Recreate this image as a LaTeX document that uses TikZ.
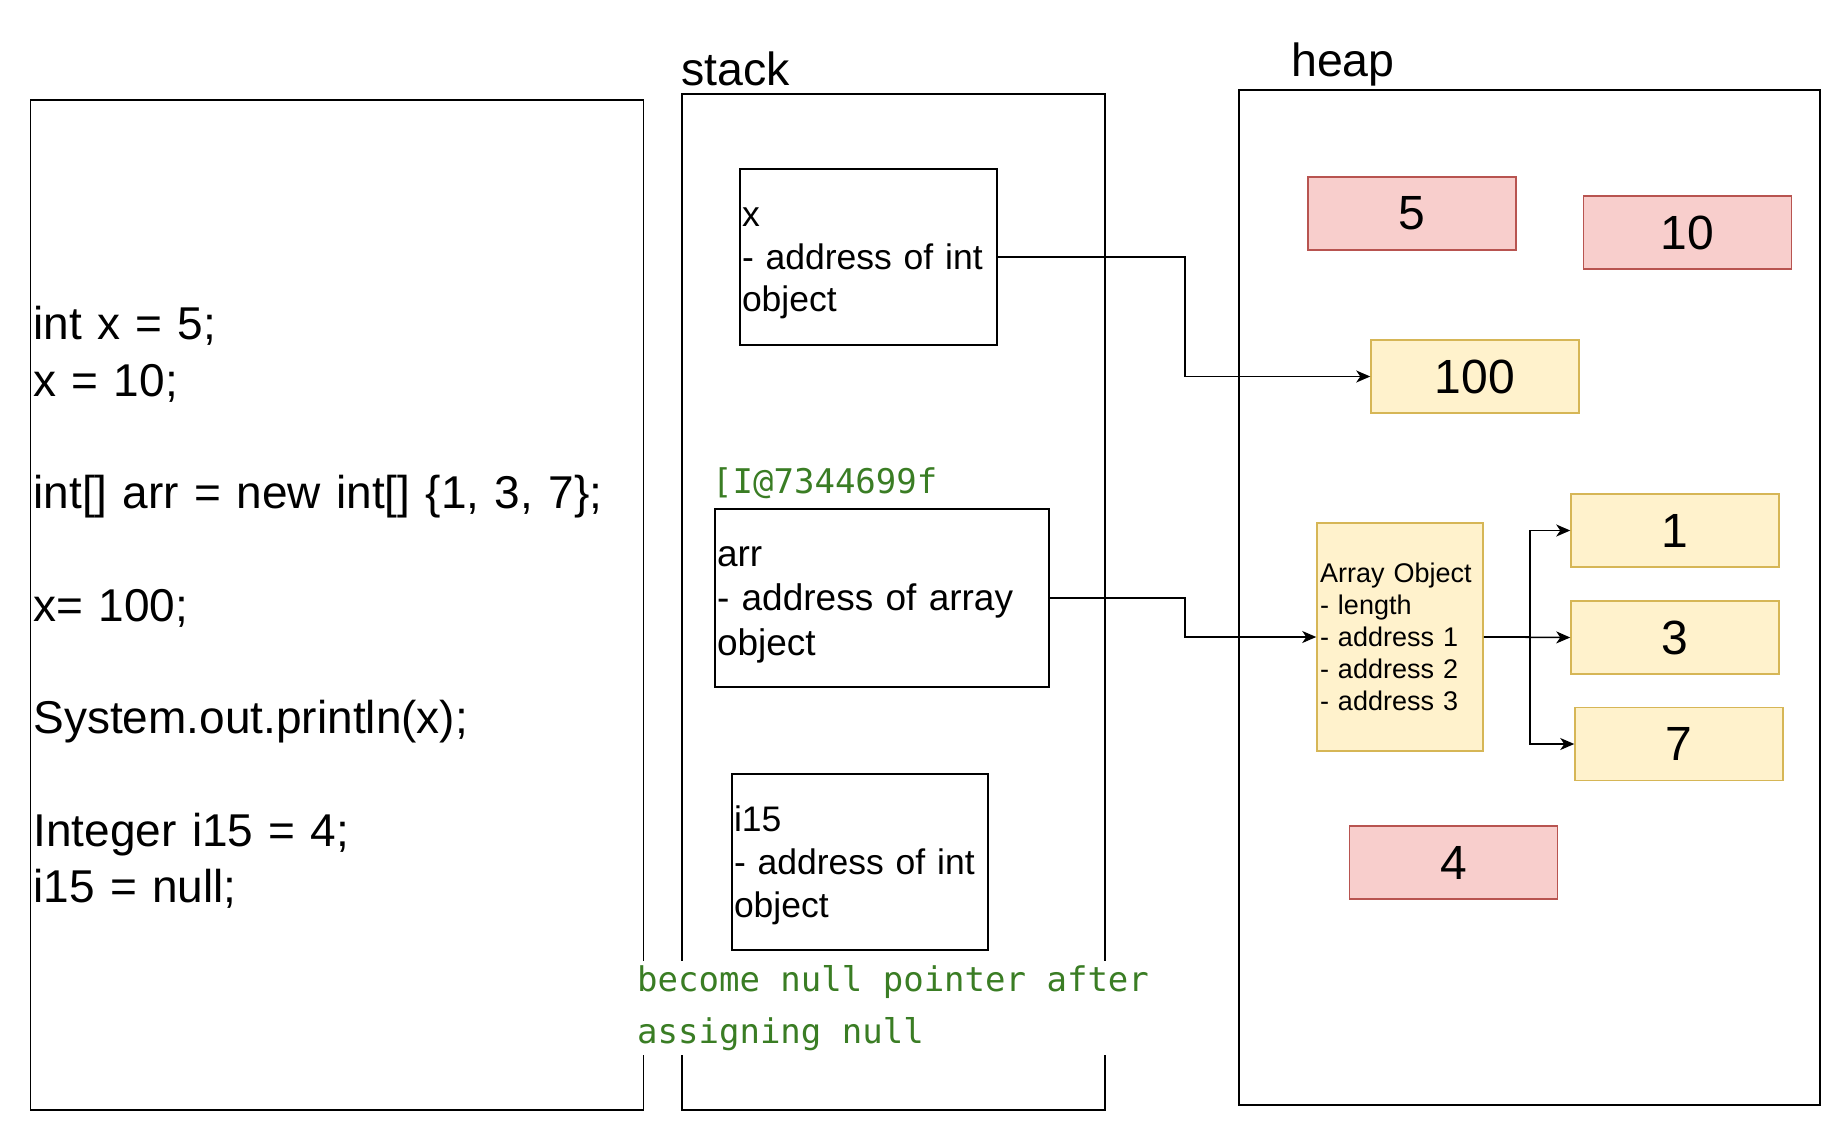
\documentclass[tikz,border=0pt]{standalone}
\usepackage{fontspec}
\setmainfont{Liberation Sans}
\newfontfamily\monofont{DejaVu Sans Mono}
\usetikzlibrary{arrows.meta}

\definecolor{redfill}{HTML}{F8CECC}
\definecolor{redline}{HTML}{B85450}
\definecolor{yelfill}{HTML}{FFF2CC}
\definecolor{yelline}{HTML}{D6B656}
\definecolor{codegreen}{HTML}{3A7D24}

% line box as in the drawing tool
\newcommand{\lb}{\rule[-0.21\baselineskip]{0pt}{\baselineskip}}

\tikzset{
  panel/.style={rectangle, draw, line width=1.5pt, inner sep=0pt},
  var/.style={rectangle, draw, line width=1.5pt, align=left, inner xsep=2pt, inner ysep=0pt},
  redbox/.style={rectangle, draw=redline, fill=redfill, line width=1.5pt, minimum width=208pt, minimum height=73pt, font=\fontsize{48}{56}\selectfont},
  yelbox/.style={rectangle, draw=yelline, fill=yelfill, line width=1.5pt, minimum width=208pt, minimum height=73pt, font=\fontsize{48}{56}\selectfont},
  ptr/.style={-{Stealth[length=14pt,width=12pt,inset=4pt]}, line width=1.5pt}
}

\begin{document}
\begin{tikzpicture}[x=1pt,y=-1pt]
\useasboundingbox (0,0) rectangle (1840,1130);

% three panels
\node[panel, minimum width=613pt, minimum height=1010pt, text width=607pt, align=left, inner xsep=3pt,
  font=\fontsize{46}{56.3}\selectfont] (code) at (337,605)
  {\lb int x = 5;\\\lb x = 10;\\\lb\\\lb int[] arr = new int[] \{1, 3, 7\};\\\lb\\\lb x= 100;\\\lb\\\lb System.out.println(x);\\\lb\\\lb Integer i15 = 4;\\\lb i15 = null;};
\node[panel, minimum width=423pt, minimum height=1016pt] (stack) at (893.5,602) {};
\node[panel, minimum width=581pt, minimum height=1015pt] (heap) at (1529.5,597.5) {};

\node[anchor=base west, inner sep=0pt, font=\fontsize{46.5}{50}\selectfont] (stacklbl) at (681,85) {stack};
\node[anchor=base west, inner sep=0pt, font=\fontsize{46.5}{50}\selectfont] (heaplbl) at (1291,76) {heap};

% stack variables
\node[var, minimum height=176pt, text width=253pt, font=\fontsize{35.5}{42.3}\selectfont] (xvar) at (868.5,257)
  {\lb x\\\lb - address of int\\\lb object};
\node[var, minimum height=178pt, text width=330pt, font=\fontsize{37}{44.6}\selectfont] (arr) at (882,598)
  {\lb arr\\\lb - address of array\\\lb object};
\node[var, minimum height=176pt, text width=252pt, font=\fontsize{35.5}{43}\selectfont] (ivar) at (860,862)
  {\lb i15\\\lb - address of int\\\lb object};

\node[anchor=west, inner sep=2pt, text=codegreen, font=\monofont\fontsize{34}{52}\selectfont] (addr) at (710,483) {[I@7344699f};
\node[anchor=west, fill=white, inner xsep=3pt, inner ysep=4pt, align=left, text=codegreen,
  font=\monofont\fontsize{34}{52}\selectfont] (nullnote) at (634,1008)
  {become null pointer after\\assigning null};

% heap objects
\node[redbox] (v5) at (1412,213.5) {5};
\node[redbox] (v10) at (1687.5,232.5) {10};
\node[yelbox] (v100) at (1475,376.5) {100};
\node[rectangle, draw=yelline, fill=yelfill, line width=1.5pt, minimum width=166pt, minimum height=228pt,
  text width=160pt, inner xsep=3pt, inner ysep=0pt, align=left, font=\fontsize{27}{32}\selectfont] (arrobj) at (1400,637)
  {\lb Array Object\\\lb - length\\\lb - address 1\\\lb - address 2\\\lb - address 3};
\node[yelbox] (v1) at (1675,530.5) {1};
\node[yelbox] (v3) at (1675,637.5) {3};
\node[yelbox] (v7) at (1679,744) {7};
\node[redbox] (v4) at (1453.5,862.5) {4};

% references
\draw[ptr] (xvar.east) -- ++(187,0) |- (v100.west);
\draw[ptr] (arr.east) -- ++(135,0) |- (arrobj.west);
\draw[ptr] (arrobj.east) -- ++(46,0) |- (v1.west);
\draw[ptr] (arrobj.east) -- (v3.west);
\draw[ptr] (arrobj.east) -- ++(46,0) |- (v7.west);

\end{tikzpicture}
\end{document}
